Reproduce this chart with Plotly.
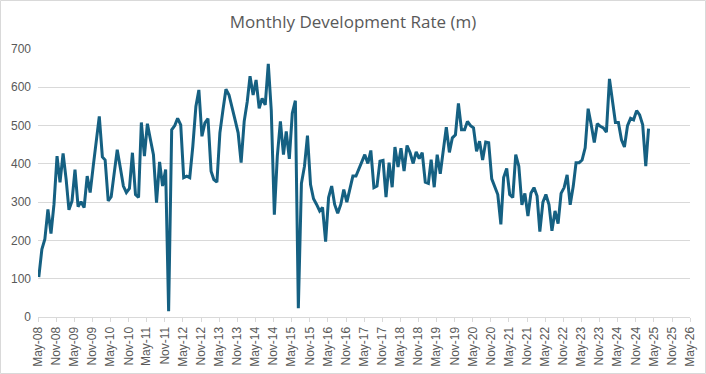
import pandas as pd
import plotly.graph_objects as go

# Monthly development rate (m), starting May 2008
start_month = "2008-05-01"
rate_values = [
    104, 177, 203, 281, 218, 294, 420, 352, 427, 359, 280, 303,
    385, 288, 301, 286, 368, 325, 394, 463, 524, 418, 410, 303,
    314, 377, 437, 390, 342, 325, 336, 429, 320, 312, 508, 420,
    505, 463, 424, 299, 405, 342, 385, 15, 489, 500, 519, 502,
    364, 368, 364, 446, 550, 593, 472, 507, 518, 381, 359, 352,
    481, 541, 595, 580, 550, 515, 481, 403, 511, 563, 629, 580,
    619, 545, 571, 554, 661, 540, 267, 420, 511, 424, 485, 413,
    532, 565, 23, 349, 394, 474, 346, 309, 294, 277, 286, 197,
    312, 342, 294, 271, 294, 333, 300, 338, 368, 368, 385, 404,
    424, 401, 435, 338, 342, 407, 409, 313, 403, 339, 444, 392,
    441, 381, 448, 429, 401, 431, 414, 429, 352, 349, 411, 339,
    424, 374, 437, 496, 430, 468, 476, 558, 489, 489, 511, 500,
    494, 433, 459, 410, 457, 455, 361, 342, 320, 242, 364, 388,
    320, 312, 424, 394, 293, 323, 264, 323, 338, 316, 223, 300,
    320, 294, 225, 277, 244, 323, 338, 371, 293, 342, 403, 403,
    410, 442, 544, 502, 456, 505, 498, 494, 483, 622, 563, 508,
    508, 463, 444, 500, 519, 515, 539, 528, 502, 394, 492,
]
months = pd.date_range(start_month, periods=len(rate_values), freq="MS") + pd.Timedelta(days=8)

tick_dates = pd.date_range("2008-05-01", "2026-05-01", freq="6MS")
tick_labels = [d.strftime("%b-%y") for d in tick_dates]

y_ticks = [0, 100, 200, 300, 400, 500, 600, 700]

W, H = 706, 374
ml, mr, mt, mb = 38, 16, 49, 57
pw, ph = W - ml - mr, H - mt - mb

fig = go.Figure()
fig.add_trace(go.Scatter(
    x=months, y=rate_values, mode="lines",
    line=dict(color="#156082", width=3),
    hoverinfo="x+y",
))

fig.update_layout(
    width=W, height=H,
    margin=dict(l=ml, r=mr, t=mt, b=mb, autoexpand=False),
    paper_bgcolor="white", plot_bgcolor="white",
    showlegend=False,
    title=dict(text="Monthly Development Rate (m)", x=0.5, xanchor="center",
               y=1 - 22 / H, yanchor="middle",
               font=dict(family="Open Sans, Arial", size=17, color="#595959")),
    font=dict(family="Liberation Sans, Arial", size=12, color="#595959"),
    xaxis=dict(
        type="date", automargin=False,
        range=[tick_dates[0], tick_dates[-1]],
        tickvals=list(tick_dates), ticktext=tick_labels,
        tickangle=-90, ticks="outside", ticklen=4, tickcolor="#d9d9d9",
        showline=True, linecolor="#d9d9d9", linewidth=1,
        showgrid=False, zeroline=False,
        tickfont=dict(family="Liberation Sans, Arial", size=12, color="#595959"),
    ),
    yaxis=dict(
        range=[0, 700], tickvals=y_ticks, automargin=False,
        showgrid=True, gridcolor="#d9d9d9", gridwidth=1,
        zeroline=False, showline=False, ticks="",
        tickfont=dict(family="Liberation Sans, Arial", size=12, color="#595959"),
        ticklabelstandoff=6,
    ),
    shapes=[dict(
        type="rect", xref="paper", yref="paper",
        x0=(0.5 - ml) / pw, x1=(W - 0.5 - ml) / pw,
        y0=-(mb - 0.5) / ph, y1=1 + (mt - 0.5) / ph,
        line=dict(color="#d9d9d9", width=1), layer="below",
    )],
)

fig.write_html(
    "out.html",
    config={"displayModeBar": False},
    post_script="document.body.style.margin='0';document.body.style.overflow='hidden';",
)
